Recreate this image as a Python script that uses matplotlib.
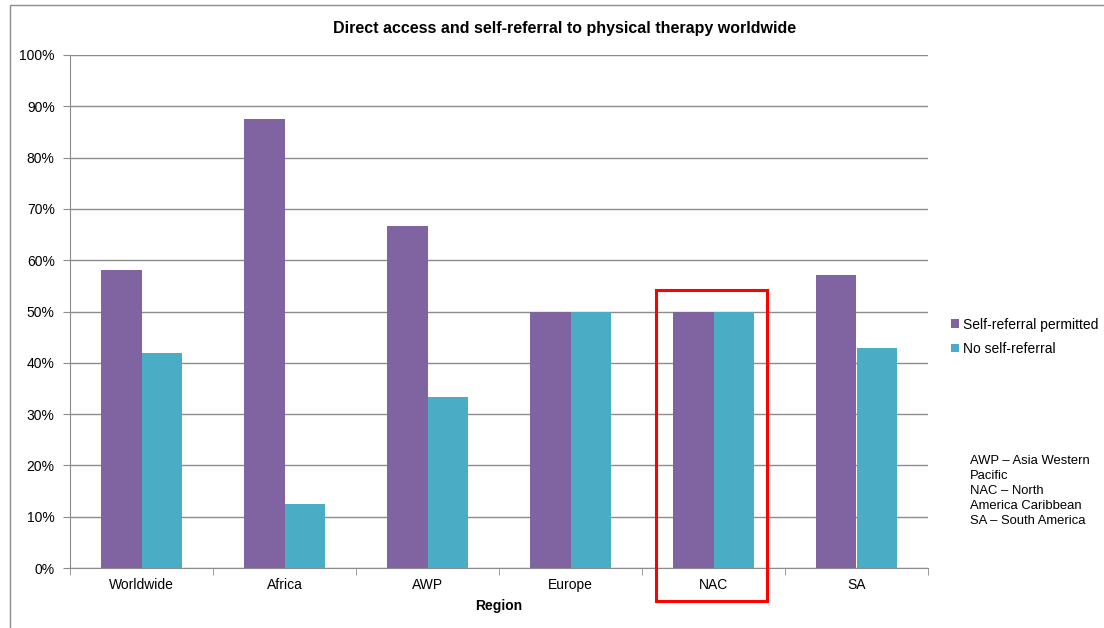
import matplotlib
matplotlib.use("Agg")
import matplotlib.pyplot as plt
from matplotlib.patches import Rectangle
import numpy as np

plt.rcParams['font.family'] = ['Liberation Sans', 'DejaVu Sans']

categories = ["Worldwide", "Africa", "AWP", "Europe", "NAC", "SA"]
self_referral = [58.0, 87.5, 66.7, 50.0, 50.0, 57.1]
no_self_referral = [42.0, 12.5, 33.3, 50.0, 50.0, 42.9]
series_names = ["Self-referral permitted", "No self-referral"]
yticks = [0, 10, 20, 30, 40, 50, 60, 70, 80, 90, 100]
title = "Direct access and self-referral to physical therapy worldwide"
xlabel = "Region"
note = "AWP \u2013 Asia Western\nPacific\nNAC \u2013 North\nAmerica Caribbean\nSA \u2013 South America"
highlight = "NAC"

W, H = 1104, 628
fig = plt.figure(figsize=(W / 100, H / 100), dpi=100)
ax = fig.add_axes([70 / W, 1 - 568 / H, (928 - 70) / W, (568 - 55) / H])

# outer chart border (partially visible)
fig.patches.append(Rectangle((10 / W, -0.1), 1.2, 1 - 5 / H + 0.1, transform=fig.transFigure,
                             fill=False, edgecolor="#8c8c8c", linewidth=1.0))

x = np.arange(len(categories))
w = 1 / 3.5
c1, c2 = "#8064A2", "#4BACC6"
ax.bar(x - w / 2, self_referral, w, color=c1, label=series_names[0], zorder=3)
ax.bar(x + w / 2, no_self_referral, w, color=c2, label=series_names[1], zorder=3)

ax.set_xlim(-0.5, len(categories) - 0.5)
ax.set_ylim(0, 100)
ax.set_yticks(yticks)
ax.set_yticklabels([f"{v}%" for v in yticks], fontsize=10)
ax.yaxis.grid(True, color="#8c8c8c", linewidth=1.0, zorder=0)
ax.set_axisbelow(True)
ax.set_xticks(x)
ax.set_xticklabels(categories, fontsize=10)
ax.tick_params(axis="x", length=0, pad=7)
ax.set_xticks(np.arange(len(categories) + 1) - 0.5, minor=True)
ax.tick_params(axis="x", which="minor", length=5, color="#8c8c8c", direction="out")
ax.tick_params(axis="y", length=5, color="#8c8c8c", direction="out", pad=6)
for s in ["top", "right"]:
    ax.spines[s].set_visible(False)
for s in ["left", "bottom"]:
    ax.spines[s].set_color("#8c8c8c")

ax.set_xlabel(xlabel, fontsize=10, fontweight="bold", labelpad=5)
fig.text(565 / W, 1 - 28 / H, title, ha="center", va="center", fontsize=11.5, fontweight="bold")

leg = fig.legend(loc="upper left", bbox_to_anchor=(945 / W, 1 - 312 / H), frameon=False,
                 fontsize=10, handlelength=0.6, handleheight=0.6, handletextpad=0.3,
                 labelspacing=0.75, borderaxespad=0)

fig.text(970 / W, 1 - 455 / H, note, ha="left", va="top", fontsize=9.4, linespacing=1.32)

# red highlight box around NAC
i = categories.index(highlight)
ax.add_patch(Rectangle((i - 0.402, -6.4), 0.776, 60.6, fill=False, edgecolor="#ff0000",
                       linewidth=2.2, clip_on=False, zorder=5))

fig.savefig("out.png", dpi=100)
